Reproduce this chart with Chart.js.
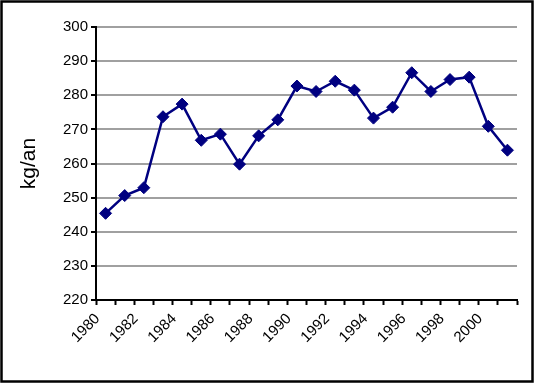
<!DOCTYPE html>
<html>
<head>
<meta charset="utf-8">
<script src="https://cdn.jsdelivr.net/npm/chart.js@4"></script>
<style>
html,body{margin:0;padding:0;background:#fff;}
#wrap{width:535px;height:384px;position:relative;}
</style>
</head>
<body>
<div id="wrap"><canvas id="c" width="535" height="384"></canvas></div>
<script>
const years = ['1980','1981','1982','1983','1984','1985','1986','1987','1988','1989','1990','1991','1992','1993','1994','1995','1996','1997','1998','1999','2000','2001'];
const consumption = [245.4, 250.6, 252.9, 273.7, 277.4, 266.8, 268.6, 259.8, 268.1, 272.8, 282.7, 281.1, 284.1, 281.5, 273.3, 276.5, 286.6, 281.1, 284.6, 285.3, 270.9, 263.9];
const yTicks = [220, 230, 240, 250, 260, 270, 280, 290, 300];
const yTitle = 'kg/an';

const FONT = "'Liberation Sans', Arial, sans-serif";

const framePlugin = {
  id: 'frame',
  beforeDraw(chart) {
    const ctx = chart.ctx;
    ctx.save();
    ctx.fillStyle = '#fff';
    ctx.fillRect(0, 0, chart.width, chart.height);
    ctx.restore();
  },
  afterDraw(chart) {
    const ctx = chart.ctx;
    ctx.save();
    ctx.strokeStyle = '#000';
    ctx.lineWidth = 2.5;
    ctx.strokeRect(1.5, 1.5, chart.width - 4, chart.height - 4);
    ctx.restore();
  }
};

new Chart(document.getElementById('c'), {
  type: 'line',
  data: {
    labels: years,
    datasets: [{
      data: consumption,
      borderColor: '#000080',
      backgroundColor: '#000080',
      borderWidth: 2.5,
      pointStyle: 'rectRot',
      pointRadius: 6,
      pointBorderWidth: 1,
      pointBackgroundColor: '#000080',
      pointBorderColor: '#000080',
      tension: 0,
      fill: false
    }]
  },
  options: {
    responsive: false,
    animation: false,
    devicePixelRatio: 1,
    layout: { padding: { top: 27, right: 18, left: 0, bottom: 0 } },
    plugins: { legend: { display: false }, tooltip: { enabled: false } },
    scales: {
      x: {
        type: 'category',
        offset: true,
        grid: { display: true, drawOnChartArea: false, drawTicks: true, offset: true, tickLength: 5, tickColor: '#000', tickWidth: 2 },
        border: { display: true, color: '#000', width: 2 },
        ticks: {
          autoSkip: false,
          maxRotation: 45,
          minRotation: 45,
          labelOffset: -8,
          padding: 5,
          color: '#000',
          font: { family: FONT, size: 15 },
          callback: function(v, i) { return (i % 2 === 0) ? years[i] : ''; }
        },
        afterFit(scale) { scale.height = 84; }
      },
      y: {
        min: 220,
        max: 300,
        afterBuildTicks(scale) { scale.ticks = yTicks.map(v => ({ value: v })); },
        grid: { color: '#a0a0a0', lineWidth: 2, drawTicks: true, tickLength: 5, tickColor: '#000', tickWidth: 2 },
        border: { display: true, color: '#000', width: 2 },
        ticks: {
          padding: 3,
          color: '#000',
          font: { family: FONT, size: 15 }
        },
        title: {
          display: true,
          text: yTitle,
          color: '#000',
          font: { family: FONT, size: 21 },
          padding: { top: 17, bottom: 0 }
        },
        afterFit(scale) { scale.width = 96; }
      }
    }
  },
  plugins: [framePlugin]
});
</script>
</body>
</html>
